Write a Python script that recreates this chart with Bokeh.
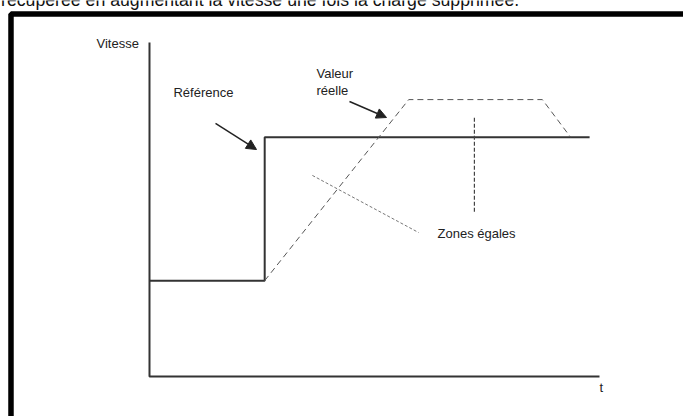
from bokeh.plotting import figure
from bokeh.models import Range1d, Arrow, NormalHead
from bokeh.core.properties import value
from bokeh.embed import file_html
from bokeh.resources import INLINE

# --- data (time t, speed v in arbitrary units) ---
axis_t = [0.0, 0.0, 10.0]
axis_v = [10.0, 0.0, 0.0]

ref_t = [0.0, 2.56, 2.56, 9.78]
ref_v = [2.87, 2.87, 7.16, 7.16]

act_t = [2.56, 5.76, 8.73, 9.36]
act_v = [2.87, 8.29, 8.29, 7.16]

zone_line_t = [7.22, 7.22]
zone_line_v = [7.75, 4.91]

zone_diag_t = [3.62, 5.98]
zone_diag_v = [6.02, 4.31]

frame_t = [-3.078, -3.078, 12.2]
frame_v = [-1.6, 10.853, 10.853]

labels = ["Vitesse", "Référence", "Valeur", "réelle", "Zones égales", "t"]
label_t = [-1.178, 0.533, 3.71, 3.71, 6.40, 10.0]
label_v = [9.96, 8.49, 9.06, 8.55, 4.27, -0.34]

caption = ["récupérée en augmentant la vitesse une fois la charge supprimée."]
caption_t = [-3.30]
caption_v = [11.26]

arrows_start_t = [1.467, 4.444]
arrows_start_v = [7.575, 8.234]
arrows_end_t = [2.378, 5.267]
arrows_end_v = [6.796, 7.754]

p = figure(width=683, height=416, output_backend="svg", toolbar_location=None,
           x_range=Range1d(-3.3111, 11.8667), y_range=Range1d(-1.1976, 11.257),
           x_axis_location=None, y_axis_location=None, min_border=0)
p.grid.visible = False
p.outline_line_color = None
p.background_fill_color = "white"

p.line(frame_t, frame_v, line_color="black", line_width=5.5)
p.line(axis_t, axis_v, line_color="#333333", line_width=2)
p.line(ref_t, ref_v, line_color="#333333", line_width=2)
p.line(act_t, act_v, line_color="#555555", line_width=1, line_dash="6 4")
p.line(zone_line_t, zone_line_v, line_color="#444444", line_width=1.2, line_dash="4 2")
p.line(zone_diag_t, zone_diag_v, line_color="#777777", line_width=1, line_dash="3 2")

for i in range(len(arrows_start_t)):
    p.add_layout(Arrow(end=NormalHead(size=10, fill_color="#222222", line_color="#222222"),
                       x_start=arrows_start_t[i], y_start=arrows_start_v[i],
                       x_end=arrows_end_t[i], y_end=arrows_end_v[i],
                       line_color="#222222", line_width=1.5))

p.text(x=label_t, y=label_v, text=labels, text_font=value("Liberation Sans"),
       text_font_size="13px", text_color="#222222", text_baseline="alphabetic",
       text_align="left")

p.text(x=caption_t, y=caption_v, text=caption, text_font=value("Liberation Sans"),
       text_font_size="17.7px", text_color="#111111", text_baseline="alphabetic",
       text_align="left")

open("out.html", "w").write(file_html(p, INLINE))
